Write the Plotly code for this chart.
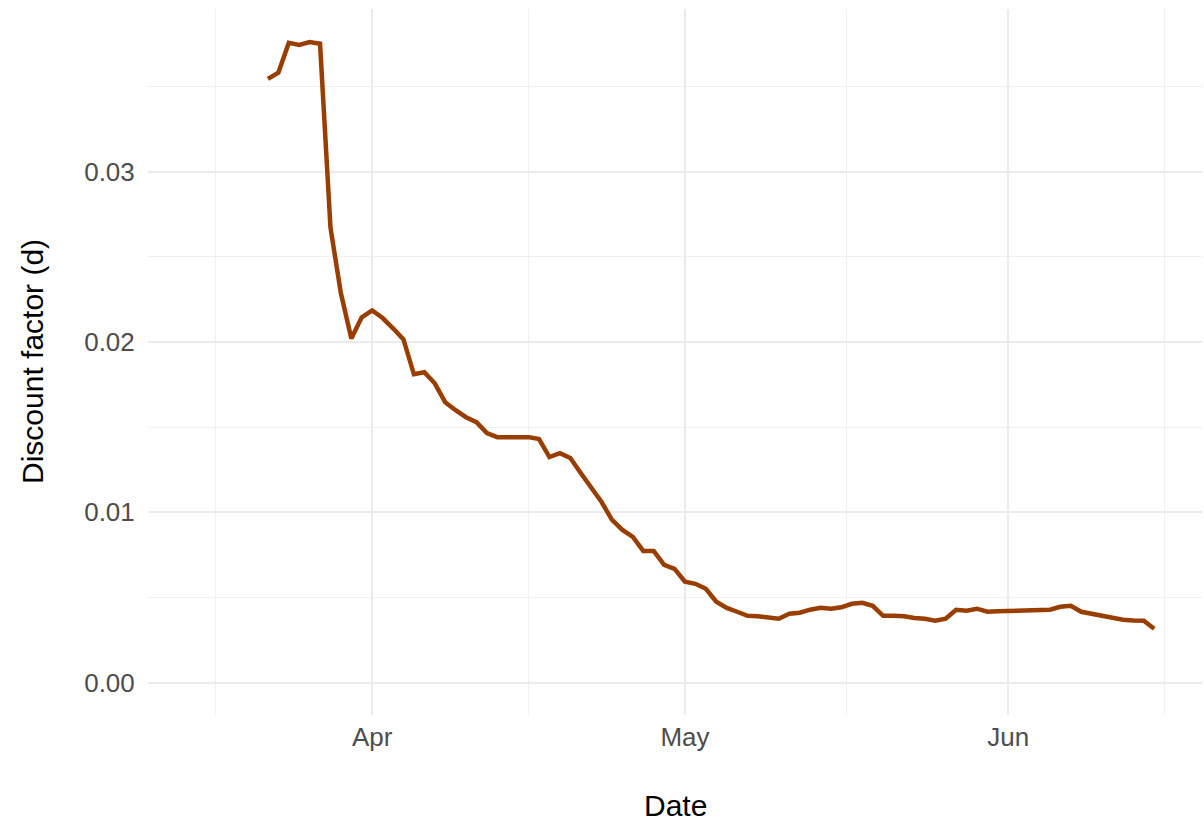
import pandas as pd
import plotly.graph_objects as go

start_date = "2020-03-22"
discount = [
    0.03544, 0.0358, 0.03755, 0.03743, 0.0376, 0.0375, 0.02671, 0.02285, 0.0202, 0.02144,
    0.02185, 0.0214, 0.0208, 0.02015, 0.0181, 0.01822, 0.01757, 0.01646, 0.01599, 0.01558,
    0.01529, 0.01465, 0.01441, 0.01441, 0.01435, 0.01441, 0.0143, 0.01324, 0.01347, 0.01318,
    0.0123, 0.0114, 0.0106, 0.00955, 0.00896, 0.00855, 0.00773, 0.00773, 0.00691, 0.00668,
    0.00592, 0.0058, 0.00551, 0.00475, 0.00439, 0.00416, 0.00392, 0.0039, 0.00385, 0.00375,
    0.00404, 0.0041, 0.00428, 0.00439, 0.00434, 0.00442, 0.00463, 0.00469, 0.00451, 0.00392,
    0.00392, 0.0039, 0.0038, 0.00375, 0.00363, 0.00375, 0.00428, 0.00422, 0.00434, 0.00416,
    0.00419, 0.0042, 0.0042, 0.00422, 0.00425, 0.00428, 0.00445, 0.00451, 0.00416, 0.00404,
    0.00392, 0.0038, 0.00369, 0.00365, 0.00363, 0.00316,
]
dates = pd.date_range(start_date, periods=len(discount), freq="D")

x_major = ["2020-04-01", "2020-05-01", "2020-06-01"]
x_labels = ["Apr", "May", "Jun"]
x_minor = ["2020-03-17", "2020-04-16", "2020-05-16 12:00", "2020-06-16"]
y_major = [0.0, 0.01, 0.02, 0.03]
y_labels = ["0.00", "0.01", "0.02", "0.03"]
y_minor = [0.005, 0.015, 0.025, 0.035]

fig = go.Figure()
fig.add_trace(go.Scatter(
    x=dates, y=discount, mode="lines",
    line=dict(color="#993D00", width=4.5),
    showlegend=False,
))

font_family = "Liberation Sans, Arial, sans-serif"
fig.update_layout(
    width=1204, height=825,
    margin=dict(l=148, r=2, t=9, b=110, autoexpand=False),
    paper_bgcolor="white", plot_bgcolor="white",
    font=dict(family=font_family, color="#4D4D4D", size=26),
    xaxis=dict(
        range=["2020-03-10 12:00", "2020-06-19 14:00"],
        tickmode="array", tickvals=x_major, ticktext=x_labels,
        showgrid=True, gridcolor="#EBEBEB", gridwidth=2,
        minor=dict(tickmode="array", tickvals=x_minor, showgrid=True,
                   gridcolor="#F0F0F0", gridwidth=1, ticks=""),
        zeroline=False, showline=False, automargin=False,
        ticks="", ticklen=0, ticklabelstandoff=4,
        tickfont=dict(size=26, color="#4D4D4D"),
    ),
    yaxis=dict(
        range=[-0.0019, 0.03954],
        tickmode="array", tickvals=y_major, ticktext=y_labels,
        showgrid=True, gridcolor="#EBEBEB", gridwidth=2,
        minor=dict(tickmode="array", tickvals=y_minor, showgrid=True,
                   gridcolor="#F0F0F0", gridwidth=1, ticks=""),
        zeroline=False, showline=False, automargin=False,
        ticks="outside", ticklen=7, tickcolor="rgba(0,0,0,0)",
        tickfont=dict(size=26, color="#4D4D4D"),
    ),
    annotations=[
        dict(text="Date", xref="paper", yref="paper", x=0.5, y=0,
             yshift=-90, showarrow=False, xanchor="center", yanchor="middle",
             font=dict(size=30, color="black", family=font_family)),
        dict(text="Discount factor (d)", xref="paper", yref="paper", x=0, y=0.5,
             xshift=-116, textangle=-90, showarrow=False, xanchor="center", yanchor="middle",
             font=dict(size=30, color="black", family=font_family)),
    ],
)

fig.write_html("out.html", config={"displayModeBar": False},
               post_script="document.body.style.margin='0';")
